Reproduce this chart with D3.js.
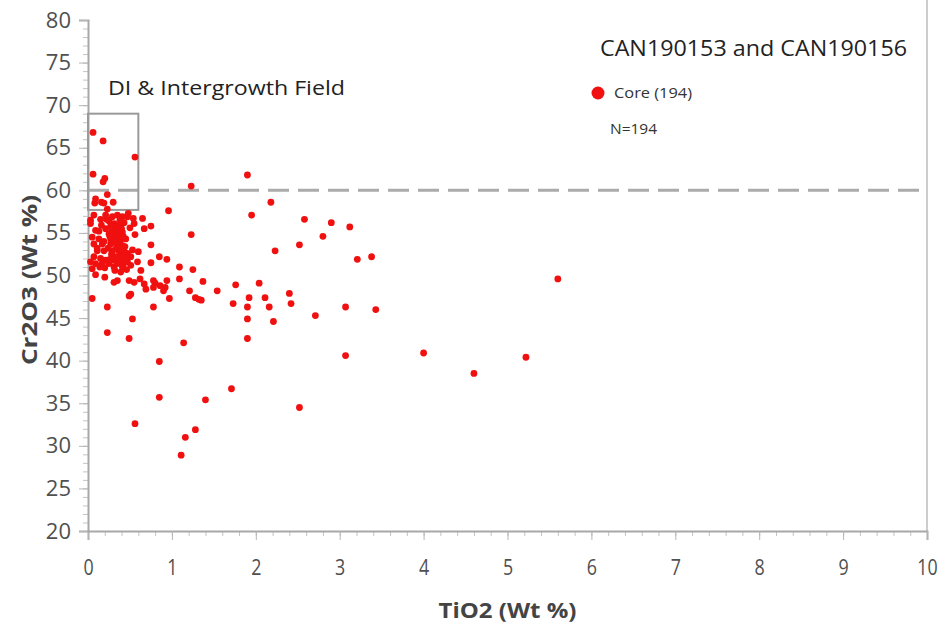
<!DOCTYPE html>
<html>
<head>
<meta charset="utf-8">
<script src="https://cdn.jsdelivr.net/npm/d3@7"></script>
<style>
  html, body { margin: 0; padding: 0; background: #fff; }
  svg { display: block; }
  text { font-family: "Open Sans", "Noto Sans", sans-serif; }
</style>
</head>
<body>
<svg id="chart" width="944" height="628"></svg>
<script>
// Spinel core analyses: TiO2 vs Cr2O3 (wt %)
const tio2 = [
  0.06, 0.18, 0.56, 0.06, 0.20, 0.18, 0.23, 0.30, 0.09, 0.08,
  0.16, 0.96, 1.90, 1.23, 2.18, 1.95, 0.75, 1.23, 2.23, 2.52,
  0.75, 0.85, 0.94, 1.09, 1.25, 0.75, 1.09, 1.37, 0.80, 0.86,
  0.92, 0.94, 0.90, 0.78, 1.21, 1.54, 1.76, 2.04, 0.97, 1.28,
  1.32, 1.35, 1.92, 2.11, 2.40, 1.73, 1.90, 2.16, 2.42, 0.78,
  2.58, 2.90, 3.12, 2.80, 3.21, 3.38, 5.60, 2.71, 3.07, 3.43,
  3.07, 4.00, 5.22, 4.60, 2.52, 0.05, 0.23, 0.53, 1.90, 2.21,
  0.23, 0.49, 1.90, 1.14, 0.85, 1.71, 0.85, 1.40, 0.56, 1.28,
  1.16, 1.11,
  // dense core cluster
  0.19, 0.07, 0.21, 0.29, 0.35, 0.41, 0.47, 0.54, 0.65, 0.03,
  0.03, 0.16, 0.25, 0.31, 0.38, 0.43, 0.55, 0.67, 0.09, 0.21,
  0.29, 0.35, 0.41, 0.25, 0.31, 0.37, 0.05, 0.13, 0.27, 0.33,
  0.39, 0.45, 0.07, 0.17, 0.27, 0.35, 0.41, 0.11, 0.19, 0.29,
  0.37, 0.43, 0.47, 0.29, 0.39, 0.07, 0.15, 0.21, 0.51, 0.31,
  0.43, 0.03, 0.09, 0.17, 0.25, 0.35, 0.47, 0.59, 0.05, 0.31,
  0.41, 0.51, 0.63, 0.35, 0.31, 0.49, 0.55, 0.67, 0.78, 0.69,
  0.51, 0.49,
  0.22, 0.27, 0.33, 0.38, 0.40, 0.30, 0.36, 0.42, 0.26, 0.31,
  0.38, 0.44, 0.24, 0.33, 0.40, 0.28, 0.34, 0.41, 0.45, 0.26,
  0.37, 0.42, 0.32, 0.39, 0.46, 0.20, 0.13, 0.15, 0.19, 0.11,
  0.14, 0.09, 0.20, 0.53, 0.56, 0.50, 0.48, 0.60, 0.62, 0.23
];
const cr2o3 = [
  66.8, 65.8, 63.9, 61.9, 61.4, 61.0, 59.5, 58.6, 59.0, 58.5,
  58.6, 57.6, 61.8, 60.5, 58.6, 57.1, 55.8, 54.8, 52.9, 53.6,
  53.6, 52.2, 51.9, 51.0, 50.7, 51.5, 49.6, 49.3, 49.1, 48.8,
  48.6, 49.4, 48.2, 48.6, 48.2, 48.2, 48.9, 49.1, 47.3, 47.4,
  47.2, 47.1, 47.4, 47.4, 47.9, 46.7, 46.3, 46.3, 46.7, 46.3,
  56.6, 56.2, 55.7, 54.6, 51.9, 52.2, 49.6, 45.3, 46.3, 46.0,
  40.6, 40.9, 40.4, 38.5, 34.5, 47.3, 46.3, 44.9, 44.9, 44.6,
  43.3, 42.6, 42.6, 42.1, 39.9, 36.7, 35.7, 35.4, 32.6, 31.9,
  31.0, 28.9,
  // dense core cluster
  58.5, 57.1, 57.1, 56.9, 57.1, 56.9, 56.9, 56.7, 56.7, 56.5,
  56.1, 55.9, 56.4, 56.1, 55.9, 56.2, 56.1, 55.5, 55.3, 55.5,
  55.3, 55.3, 55.1, 54.9, 54.7, 54.7, 54.5, 54.3, 54.3, 54.1,
  54.2, 54.3, 53.7, 53.7, 53.7, 53.5, 53.5, 52.9, 52.9, 52.9,
  52.9, 52.9, 52.6, 52.4, 52.4, 52.2, 52.0, 51.8, 52.2, 51.8,
  51.8, 51.6, 51.4, 51.4, 51.4, 51.4, 51.6, 51.6, 50.8, 51.0,
  51.0, 51.2, 50.6, 49.4, 49.2, 49.4, 49.2, 49.0, 49.4, 48.4,
  47.8, 47.6,
  56.6, 55.8, 55.7, 56.5, 55.5, 54.9, 54.5, 54.6, 54.6, 53.9,
  53.8, 53.4, 53.2, 53.1, 53.1, 52.5, 52.2, 52.1, 52.3, 51.9,
  51.6, 51.3, 50.6, 50.4, 50.7, 50.9, 55.2, 56.6, 54.0, 53.2,
  51.0, 50.1, 49.8, 53.0, 54.8, 55.6, 57.3, 52.8, 49.6, 57.8
];

const xTicks = [0, 1, 2, 3, 4, 5, 6, 7, 8, 9, 10];
const yTicks = [20, 25, 30, 35, 40, 45, 50, 55, 60, 65, 70, 75, 80];
const seriesName = "Core (194)";
const sampleTitle = "CAN190153 and CAN190156";
const countLabel = "N=194";
const fieldLabel = "DI & Intergrowth Field";
const fieldBox = { x0: 0, x1: 0.6, y0: 57.7, y1: 69 };
const refLine = 60;

const svg = d3.select("#chart");
const plotLeft = 88, plotRight = 927, plotTop = 20, plotBottom = 531;

const x = d3.scaleLinear().domain([0, 10]).range([plotLeft, plotRight]);
const y = d3.scaleLinear().domain([20, 80]).range([plotBottom, plotTop]);

const axisColor = "#a8a8a8";
const labelColor = "#505050";

// plot frame on the right
svg.append("line")
  .attr("x1", plotRight).attr("x2", plotRight)
  .attr("y1", 0).attr("y2", plotBottom)
  .attr("stroke", "#bdbdbd").attr("stroke-width", 1.5);

// minor ticks
const xMinor = d3.range(0, 10.001, 0.2);
const yMinor = d3.range(20, 80.001, 1);

const gx = svg.append("g").attr("transform", `translate(0,${plotBottom})`);
gx.append("g")
  .call(d3.axisBottom(x).tickValues(xMinor).tickSize(5).tickFormat(""))
  .call(g => g.select(".domain").remove())
  .call(g => g.selectAll("line").attr("stroke", "#c4c4c4"));
gx.append("g")
  .call(d3.axisBottom(x).tickValues(xTicks).tickSize(9).tickPadding(20).tickFormat(d3.format("d")))
  .call(g => g.select(".domain").attr("stroke", axisColor).attr("stroke-width", 2))
  .call(g => g.selectAll("line").attr("stroke", "#b5b5b5"))
  // narrow x labels: each text is squeezed around its own tick position
  .call(g => g.selectAll("text").attr("fill", labelColor).style("font-size", "21px")
    .attr("transform", "scale(0.85,1)"));

const gy = svg.append("g").attr("transform", `translate(${plotLeft},0)`);
gy.append("g")
  .call(d3.axisLeft(y).tickValues(yMinor).tickSize(5).tickFormat(""))
  .call(g => g.select(".domain").remove())
  .call(g => g.selectAll("line").attr("stroke", "#c4c4c4"));
gy.append("g")
  .call(d3.axisLeft(y).tickValues(yTicks).tickSize(9).tickPadding(8).tickFormat(d3.format("d")))
  .call(g => g.select(".domain").attr("stroke", axisColor).attr("stroke-width", 2))
  .call(g => g.selectAll("line").attr("stroke", "#b5b5b5"))
  .call(g => g.selectAll("text").attr("fill", labelColor).style("font-size", "22px"));

// axis titles
svg.append("text")
  .attr("x", (plotLeft + plotRight) / 2).attr("y", 618)
  .attr("text-anchor", "middle")
  .attr("fill", "#444").style("font-size", "21px").style("font-weight", "bold")
  .attr("textLength", 138).attr("lengthAdjust", "spacingAndGlyphs")
  .text("TiO2 (Wt %)");
svg.append("text")
  .attr("transform", "translate(37,280) rotate(-90)")
  .attr("text-anchor", "middle")
  .attr("fill", "#444").style("font-size", "21px").style("font-weight", "bold")
  .attr("textLength", 170).attr("lengthAdjust", "spacingAndGlyphs")
  .text("Cr2O3 (Wt %)");

// reference line at 60 wt % Cr2O3
svg.append("line")
  .attr("x1", x(0)).attr("x2", x(10))
  .attr("y1", y(refLine)).attr("y2", y(refLine))
  .attr("stroke", "#ababab").attr("stroke-width", 3)
  .attr("stroke-dasharray", "21,9");

// DI & intergrowth field box
svg.append("rect")
  .attr("x", x(fieldBox.x0)).attr("y", y(fieldBox.y1))
  .attr("width", x(fieldBox.x1) - x(fieldBox.x0))
  .attr("height", y(fieldBox.y0) - y(fieldBox.y1))
  .attr("fill", "none").attr("stroke", "#9a9a9a").attr("stroke-width", 2);

svg.append("text")
  .attr("x", 108).attr("y", 95)
  .attr("fill", "#222").style("font-size", "20px")
  .attr("textLength", 237).attr("lengthAdjust", "spacingAndGlyphs")
  .text(fieldLabel);

// data points
const pts = tio2.map((t, i) => ({ t, c: cr2o3[i] }));
svg.append("g").selectAll("circle")
  .data(pts)
  .join("circle")
  .attr("cx", d => x(d.t))
  .attr("cy", d => y(d.c))
  .attr("r", 3.4)
  .attr("fill", "#f01010");

// legend
svg.append("text")
  .attr("x", 600).attr("y", 56)
  .attr("fill", "#222").style("font-size", "21px")
  .attr("textLength", 307).attr("lengthAdjust", "spacingAndGlyphs")
  .text(sampleTitle);
svg.append("circle")
  .attr("cx", 598).attr("cy", 93).attr("r", 6.5)
  .attr("fill", "#f01010");
svg.append("text")
  .attr("x", 614).attr("y", 98)
  .attr("fill", "#333").style("font-size", "14px")
  .attr("textLength", 78).attr("lengthAdjust", "spacingAndGlyphs")
  .text(seriesName);
svg.append("text")
  .attr("x", 610).attr("y", 134)
  .attr("fill", "#333").style("font-size", "14px")
  .attr("textLength", 47).attr("lengthAdjust", "spacingAndGlyphs")
  .text(countLabel);
</script>
</body>
</html>
